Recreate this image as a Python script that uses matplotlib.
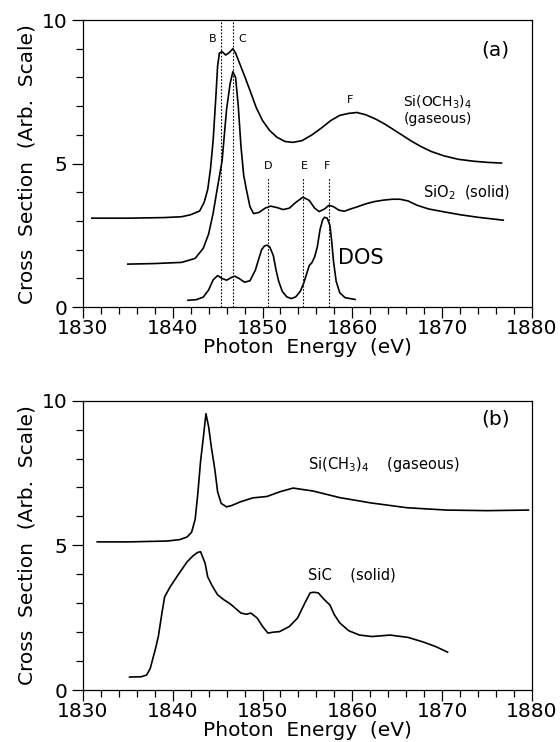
import matplotlib
matplotlib.use('Agg')
from matplotlib import pyplot as plt
from matplotlib.ticker import MultipleLocator

# panel (a): Si(OCH3)4 gas
gas_a_x = [1831, 1835, 1839, 1841, 1842, 1843.0, 1843.5, 1843.9, 1844.2, 1844.5, 1844.8, 1845.0,
           1845.2, 1845.5, 1845.9, 1846.3, 1846.7, 1847.0, 1847.5, 1848.0, 1848.6, 1849.3, 1850.0,
           1850.8, 1851.6, 1852.5, 1853.4, 1854.4, 1855.5, 1856.6, 1857.6, 1858.6, 1859.6, 1860.5,
           1861.5, 1862.6, 1863.6, 1864.6, 1865.6, 1866.6, 1867.6, 1868.8, 1870.2, 1871.8, 1873.6,
           1875.2, 1876.6]
gas_a_y = [3.10, 3.10, 3.12, 3.15, 3.22, 3.35, 3.65, 4.1, 4.8, 5.8, 7.3, 8.4,
           8.85, 8.9, 8.78, 8.87, 9.0, 8.85, 8.45, 8.05, 7.55, 6.95, 6.5,
           6.15, 5.92, 5.77, 5.74, 5.8, 6.0, 6.25, 6.5, 6.68, 6.75, 6.78,
           6.7, 6.55, 6.38, 6.18, 5.98, 5.78, 5.6, 5.42, 5.27, 5.15, 5.08,
           5.04, 5.02]

# panel (a): SiO2 solid
sio2_x = [1835, 1838, 1841, 1842.5, 1843.4, 1844.0, 1844.5, 1845.0, 1845.5, 1846.0, 1846.4, 1846.7,
          1847.0, 1847.3, 1847.6, 1847.9, 1848.2, 1848.6, 1849.0, 1849.6, 1850.3, 1850.9, 1851.6,
          1852.3, 1853.0, 1853.7, 1854.5, 1855.2, 1855.8, 1856.3, 1856.9, 1857.4, 1857.9, 1858.5,
          1859.1, 1859.8, 1860.6, 1861.5, 1862.5, 1863.5, 1864.5, 1865.3, 1866.2, 1867.2, 1868.5,
          1870.2, 1872.0, 1874.0, 1876.8]
sio2_y = [1.50, 1.52, 1.56, 1.70, 2.05, 2.55, 3.27, 4.2, 5.1, 6.9, 7.8, 8.2,
          8.0, 7.0, 5.6, 4.6, 4.1, 3.5, 3.26, 3.3, 3.45, 3.52, 3.47,
          3.4, 3.45, 3.65, 3.83, 3.72, 3.45, 3.33, 3.42, 3.55, 3.5, 3.38,
          3.34, 3.42, 3.5, 3.6, 3.68, 3.73, 3.76, 3.76, 3.7, 3.55, 3.42,
          3.32, 3.22, 3.13, 3.03]

# panel (a): DOS
dos_x = [1841.7, 1842.6, 1843.4, 1844.0, 1844.5, 1845.0, 1845.5, 1846.0, 1846.5, 1846.9, 1847.4,
         1848.0, 1848.6, 1849.2, 1849.6, 1849.9, 1850.2, 1850.5, 1850.8, 1851.2, 1851.5, 1851.8,
         1852.2, 1852.7, 1853.2, 1853.7, 1854.2, 1854.6, 1854.9, 1855.2, 1855.5, 1855.8, 1856.1,
         1856.4, 1856.7, 1856.9, 1857.2, 1857.5, 1857.7, 1857.9, 1858.2, 1858.6, 1859.2, 1860.3]
dos_y = [0.24, 0.26, 0.35, 0.6, 0.95, 1.1, 1.0, 0.94, 1.03, 1.08, 1.0,
         0.87, 0.92, 1.29, 1.7, 2.0, 2.13, 2.16, 2.1, 1.8, 1.3, 0.9,
         0.55, 0.36, 0.3, 0.36, 0.55, 0.85, 1.15, 1.45, 1.55, 1.75, 2.1,
         2.7, 3.05, 3.13, 3.1, 2.85, 2.3, 1.6, 0.9, 0.5, 0.33, 0.27]

# feature markers (dotted lines) in panel (a)
mark_x = [1845.4, 1846.7, 1850.6, 1854.5, 1857.4]
mark_top = [10, 10, 4.5, 4.5, 4.5]
mark_labels = ['B', 'C', 'D', 'E', 'F']
mark_label_x = [1844.4, 1847.7, 1850.6, 1854.7, 1857.2]
mark_label_y = [9.33, 9.33, 4.9, 4.9, 4.9]

# panel (b): Si(CH3)4 gas
gas_b_x = [1831.6, 1835, 1839.4, 1840.8, 1841.6, 1842.1, 1842.5, 1842.8, 1843.1, 1843.4, 1843.7,
           1844.0, 1844.3, 1844.7, 1845.0, 1845.4, 1846.0, 1846.6, 1847.5, 1848.9, 1850.5, 1851.9,
           1853.4, 1855.6, 1858.6, 1862.0, 1866.1, 1870.5, 1875, 1879.6]
gas_b_y = [5.12, 5.12, 5.15, 5.2, 5.29, 5.45, 5.9, 6.8, 7.9, 8.7, 9.55,
           9.1, 8.4, 7.6, 6.85, 6.45, 6.33, 6.38, 6.5, 6.64, 6.69, 6.85,
           6.98, 6.88, 6.65, 6.47, 6.3, 6.22, 6.2, 6.22]

# panel (b): SiC solid
sic_x = [1835.2, 1836.5, 1837.1, 1837.5, 1837.8, 1838.1, 1838.4, 1838.8, 1839.1, 1839.7, 1840.6,
         1841.6, 1842.3, 1842.8, 1843.1, 1843.6, 1843.9, 1844.4, 1845.0, 1845.7, 1846.4, 1847.0,
         1847.6, 1848.2, 1848.7, 1849.4, 1850.0, 1850.6, 1851.2, 1851.9, 1853.0, 1853.9, 1854.7,
         1855.3, 1855.7, 1856.2, 1856.8, 1857.5, 1858.0, 1858.6, 1859.6, 1860.8, 1862.2, 1864.2,
         1866.2, 1867.9, 1869.3, 1870.6]
sic_y = [0.45, 0.46, 0.52, 0.75, 1.1, 1.45, 1.85, 2.66, 3.22, 3.56, 3.98,
         4.43, 4.65, 4.76, 4.78, 4.39, 3.91, 3.6, 3.29, 3.12, 2.98, 2.82,
         2.66, 2.62, 2.66, 2.49, 2.2, 1.97, 2.0, 2.02, 2.2, 2.49, 3.0,
         3.36, 3.38, 3.36, 3.15, 2.94, 2.6, 2.32, 2.05, 1.9, 1.85, 1.9,
         1.82, 1.66, 1.5, 1.31]

xticks = [1830, 1840, 1850, 1860, 1870, 1880]
yticks = [0, 5, 10]

plt.rcParams['font.family'] = 'DejaVu Sans'
fig = plt.figure(figsize=(5.6, 7.42), dpi=100)
ax1 = fig.add_axes([0.148, 0.586, 0.802, 0.387])
ax2 = fig.add_axes([0.148, 0.070, 0.802, 0.390])


def style(ax):
    ax.set_xlim(1830, 1880)
    ax.set_ylim(0, 10)
    ax.set_xticks(xticks)
    ax.set_yticks(yticks)
    ax.xaxis.set_minor_locator(MultipleLocator(2))
    ax.yaxis.set_minor_locator(MultipleLocator(1))
    ax.tick_params(which='both', direction='out', top=False, right=False, width=0.9)
    ax.tick_params(which='major', length=8, labelsize=14.5)
    ax.tick_params(axis='x', which='major', pad=0.5)
    ax.tick_params(axis='y', which='major', pad=3)
    ax.tick_params(which='minor', length=5)
    for s in ax.spines.values():
        s.set_linewidth(0.9)
    ax.set_xlabel('Photon  Energy  (eV)', fontsize=14.5, labelpad=0)
    ax.set_ylabel('Cross  Section  (Arb.  Scale)', fontsize=14.5, labelpad=4)


style(ax1)
ax1.plot(gas_a_x, gas_a_y, color='black', lw=1.2)
ax1.plot(sio2_x, sio2_y, color='black', lw=1.2)
ax1.plot(dos_x, dos_y, color='black', lw=1.2)
for x, top in zip(mark_x, mark_top):
    ax1.plot([x, x], [0, top], color='black', lw=0.8, linestyle=(0, (1.5, 1.5)))
for lab, x, y in zip(mark_labels, mark_label_x, mark_label_y):
    ax1.text(x, y, lab, fontsize=8, ha='center', va='center')
ax1.text(1859.7, 7.2, 'F', fontsize=8, ha='center', va='center')
ax1.text(1865.6, 7.15, r'Si(OCH$_3$)$_4$', fontsize=10, va='center')
ax1.text(1865.7, 6.55, '(gaseous)', fontsize=10, va='center')
ax1.text(1867.9, 4.0, r'SiO$_2$  (solid)', fontsize=10.5, va='center')
ax1.text(1858.4, 1.7, 'DOS', fontsize=15, va='center')
ax1.text(1874.3, 8.95, '(a)', fontsize=14.5, va='center')

style(ax2)
ax2.plot(gas_b_x, gas_b_y, color='black', lw=1.2)
ax2.plot(sic_x, sic_y, color='black', lw=1.2)
ax2.text(1855.1, 7.8, r'Si(CH$_3$)$_4$    (gaseous)', fontsize=10.5, va='center')
ax2.text(1855.1, 3.98, 'SiC    (solid)', fontsize=10.5, va='center')
ax2.text(1874.3, 9.35, '(b)', fontsize=14.5, va='center')

plt.savefig('out.png', dpi=100)
